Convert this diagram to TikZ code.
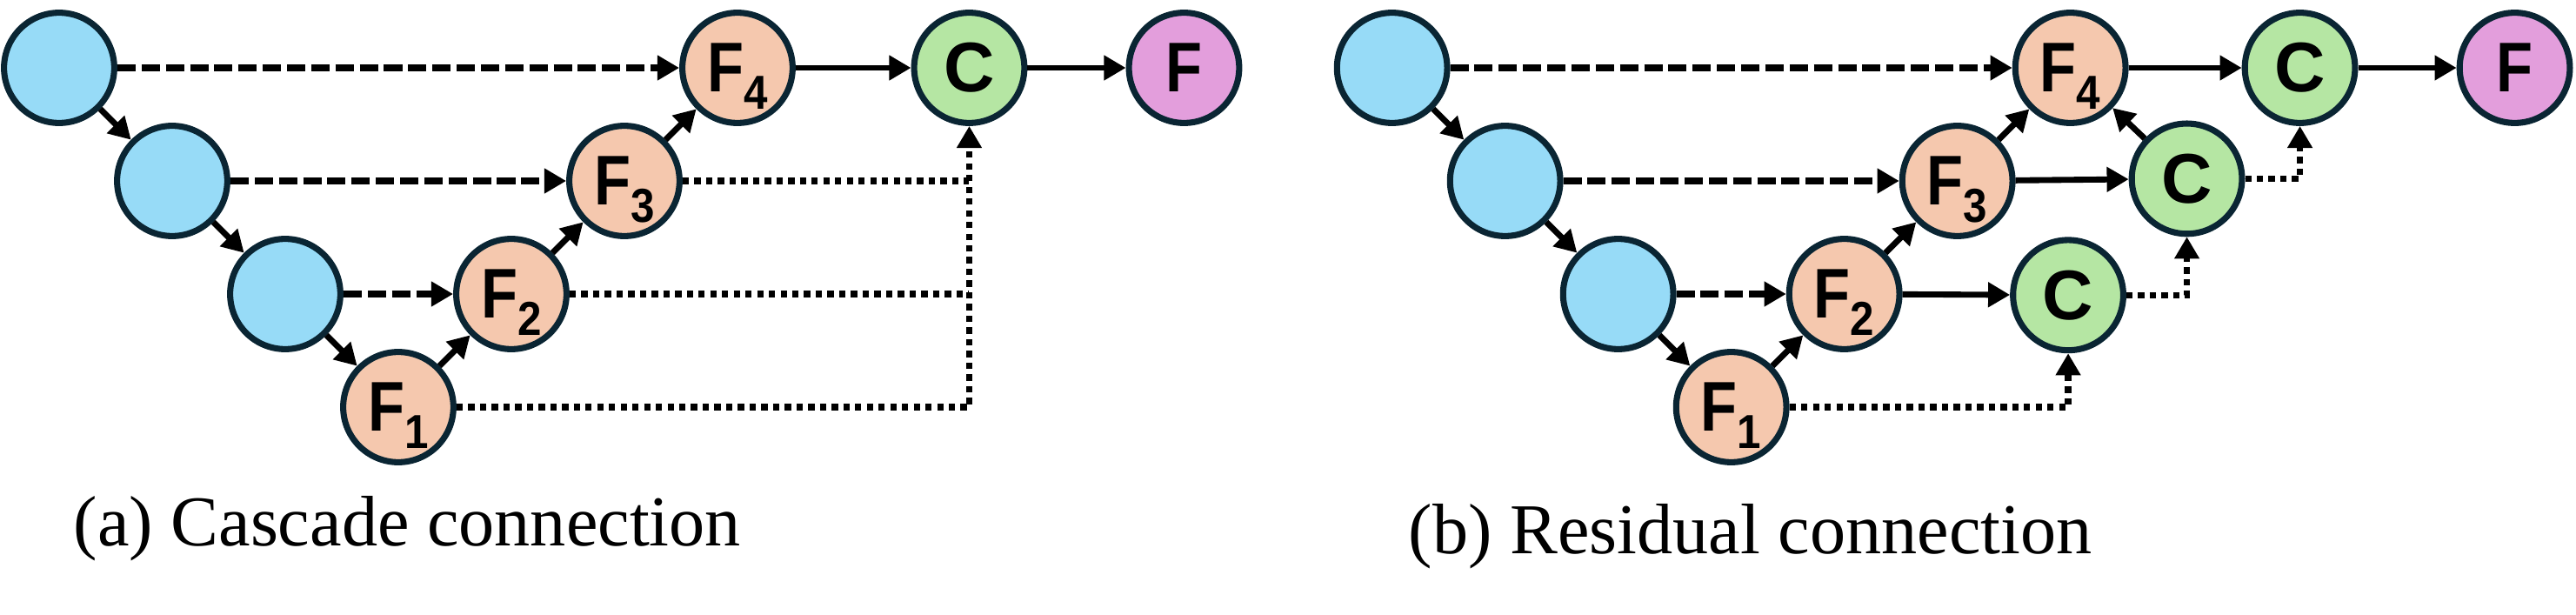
\documentclass[tikz,border=0pt]{standalone}
\usepackage{fontspec}
\setmainfont{Liberation Serif}
\newfontfamily\nodefont{Liberation Sans}
\usetikzlibrary{arrows.meta, positioning, calc}

\definecolor{encblue}{HTML}{97DBF7}
\definecolor{fusepeach}{HTML}{F5C8AE}
\definecolor{catgreen}{HTML}{B5E6A3}
\definecolor{outpink}{HTML}{E39EDC}
\definecolor{rimnavy}{HTML}{0A2533}

\newcommand{\Fchar}{\scalebox{0.85}[1]{F}}
\newcommand{\Fsub}[1]{\Fchar\raisebox{-4.4pt}[0pt][0pt]{\fontsize{12pt}{12pt}\selectfont\scalebox{0.9}[1]{#1}}}

\begin{document}
\begin{tikzpicture}[
    blob/.style={draw=rimnavy, line width=1.55pt, circle, minimum size=0.975cm, inner sep=0pt,
        font=\nodefont\bfseries\fontsize{17.7pt}{18pt}\selectfont},
    enc/.style={blob, fill=encblue},
    fuse/.style={blob, fill=fusepeach},
    cat/.style={blob, fill=catgreen},
    outn/.style={blob, fill=outpink},
    link/.style={line width=1.5pt, -{Triangle[length=5.5pt, width=6pt]}},
    skip/.style={link, line width=1.6pt, dash pattern=on 4.6pt off 1.5pt},
    tap/.style={line width=1.65pt, dash pattern=on 1.6pt off 1.35pt},
    tapin/.style={tap, -{Triangle[length=5.5pt, width=6pt]}},
    caption/.style={anchor=base, font=\fontsize{18pt}{20pt}\selectfont}
]
\useasboundingbox (-0.523,0.6) rectangle (22.262,-4.831);

% (a) Cascade connection
\foreach \i in {1,2,3} {
    \node[enc] (ae\i) at (\i-1, 1-\i) {};
}
\foreach \i/\x/\y in {1/3/-3, 2/4/-2, 3/5/-1, 4/6/0} {
    \node[fuse] (af\i) at (\x,\y) {\Fsub{\i}};
}
\node[cat] (ac) at (8.05,0) {C};
\node[outn] (aout) at (9.95,0) {\Fchar};

\draw[link] (ae1) -- (ae2);
\draw[link] (ae2) -- (ae3);
\draw[link] (ae3) -- (af1);
\draw[link] (af1) -- (af2);
\draw[link] (af2) -- (af3);
\draw[link] (af3) -- (af4);
\draw[skip] (ae1) -- (af4);
\draw[skip] (ae2) -- (af3);
\draw[skip] (ae3) -- (af2);
\draw[link] (af4) -- (ac);
\draw[link] (ac) -- (aout);
\draw[tap] (af3.east) -- (af3 -| ac);
\draw[tap] (af2.east) -- (af2 -| ac);
\draw[tapin] (af1.east) -| (ac.south);

\node[caption] (acap) at (3.08,-4.23) {(a) Cascade connection};

% (b) Residual connection
\begin{scope}[xshift=11.79cm]
    \foreach \i in {1,2,3} {
        \node[enc] (be\i) at (\i-1, 1-\i) {};
    }
    \foreach \i/\x/\y in {1/3/-3, 2/4/-2, 3/5/-1, 4/6/0} {
        \node[fuse] (bf\i) at (\x,\y) {\Fsub{\i}};
    }
    \node[cat] (bc1) at (5.98,-2.01) {C};
    \node[cat] (bc2) at (7.03,-0.98) {C};
    \node[cat] (bc3) at (8.03,0) {C};
    \node[outn] (bout) at (9.93,0) {\Fchar};

    \node[caption] (bcap) at (3.17,-4.30) {(b) Residual connection};
\end{scope}

\draw[link] (be1) -- (be2);
\draw[link] (be2) -- (be3);
\draw[link] (be3) -- (bf1);
\draw[link] (bf1) -- (bf2);
\draw[link] (bf2) -- (bf3);
\draw[link] (bf3) -- (bf4);
\draw[skip] (be1) -- (bf4);
\draw[skip] (be2) -- (bf3);
\draw[skip] (be3) -- (bf2);
\draw[link] (bf2) -- (bc1);
\draw[link] (bf3) -- (bc2);
\draw[link] (bc2) -- (bf4);
\draw[link] (bf4) -- (bc3);
\draw[link] (bc3) -- (bout);
\draw[tapin] (bf1.east) -| (bc1.south);
\draw[tapin] (bc1.east) -| (bc2.south);
\draw[tapin] (bc2.east) -| (bc3.south);
\end{tikzpicture}
\end{document}
